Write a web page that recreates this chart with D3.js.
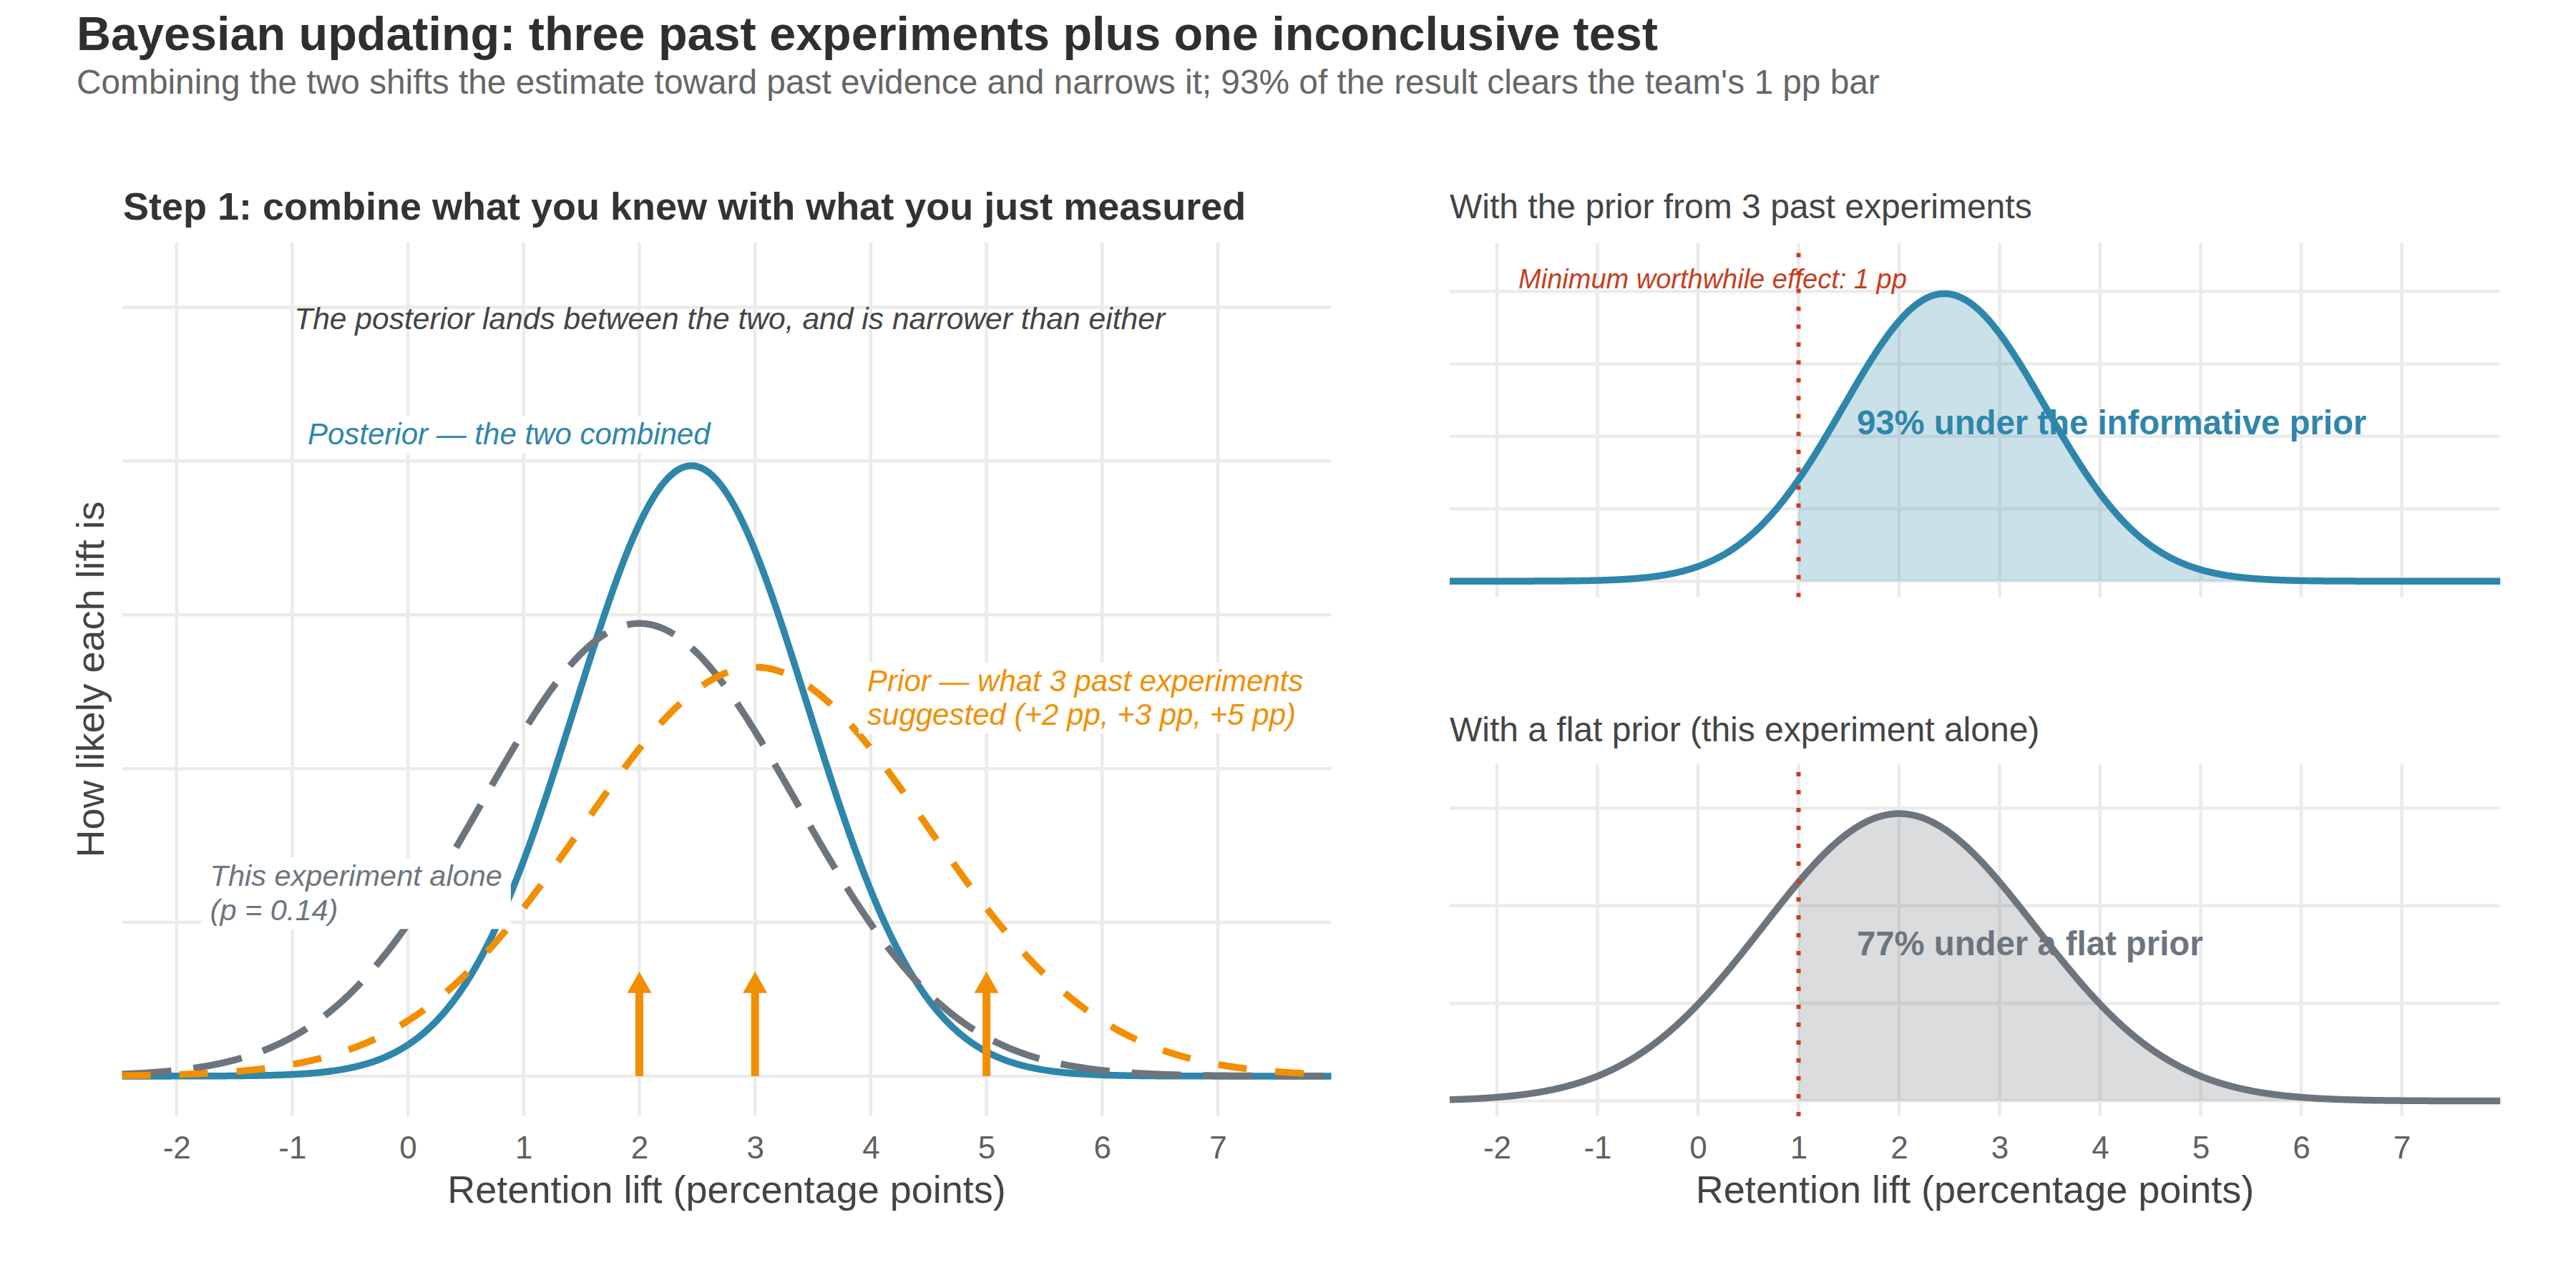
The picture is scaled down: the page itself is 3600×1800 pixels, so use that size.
<!DOCTYPE html>
<html>
<head>
<meta charset="utf-8">
<script src="https://cdn.jsdelivr.net/npm/d3@7"></script>
<style>
  html, body { margin: 0; padding: 0; background: #ffffff; }
  svg { display: block; }
  text { font-family: "Liberation Sans", Arial, Helvetica, sans-serif; }
</style>
</head>
<body>
<svg id="chart" width="3600" height="1800"></svg>
<script>
// ---------------- DATA ----------------
const xTickValues = [-2, -1, 0, 1, 2, 3, 4, 5, 6, 7];
const xDomain = [-2.47, 7.98];

// Normal curves: posterior, this experiment alone, prior
const distKeys  = ["posterior", "experiment", "prior"];
const distMeans = [2.45, 2.0, 3.0];
const distSDs   = [1.005, 1.355, 1.5];

// Past experiment results (arrows)
const pastLifts = [2, 3, 5];
const arrowTip = 0.068;

// Threshold and shares above it
const threshold = 1;
const shareLabels = ["93% under the informative prior", "77% under a flat prior"];

// Gridlines per panel
const leftYGrid   = [0, 0.1, 0.2, 0.3, 0.4, 0.5];
const topYGrid    = [0, 0.1, 0.2, 0.3, 0.4];
const bottomYGrid = [0, 0.1, 0.2, 0.3];

// ---------------- STYLE ----------------
const COL = {
  posterior: "#2E86AB",
  experiment: "#6C757D",
  prior: "#F18F01",
  red: "#C73E1D",
  grid: "#EBEBEB",
  title: "#2f2f2f",
  sub: "#666666",
  axis: "#444444",
  tick: "#606060",
  note: "#444444"
};
const FONT = '"Liberation Sans", Arial, Helvetica, sans-serif';
const LW = 9.5;

const svg = d3.select("#chart");
svg.append("rect").attr("width", 3600).attr("height", 1800).attr("fill", "#fff");

// ---------------- SCALES ----------------
// x(-2) and unit spacing measured from the reference
const xL = d3.scaleLinear().domain(xDomain).range([246.7 + (xDomain[0] + 2) * 161.7, 246.7 + (xDomain[1] + 2) * 161.7]);
const yL = d3.scaleLinear().domain([-0.0261, 0.5421]).range([1560, 339]);
const xR = d3.scaleLinear().domain(xDomain).range([2092 + (xDomain[0] + 2) * 140.5, 2092 + (xDomain[1] + 2) * 140.5]);
const yT = d3.scaleLinear().domain([-0.022, 0.467]).range([834.5, 339.5]);
const yB = d3.scaleLinear().domain([-0.0157, 0.3458]).range([1560, 1067]);

function dnorm(x, m, s) {
  const z = (x - m) / s;
  return Math.exp(-0.5 * z * z) / (s * Math.sqrt(2 * Math.PI));
}
const xsGrid = d3.range(xDomain[0], xDomain[1] + 1e-9, 0.01);
function curve(i) {
  return xsGrid.map(x => ({ x, y: dnorm(x, distMeans[i], distSDs[i]) }));
}
const curves = {};
distKeys.forEach((k, i) => curves[k] = curve(i));

// ---------------- HELPERS ----------------
function grid(g, x, y, yVals) {
  const [x0, x1] = x.range();
  const [yb, yt] = y.range();
  g.selectAll(".hg").data(yVals).join("line")
    .attr("x1", x0).attr("x2", x1)
    .attr("y1", d => y(d)).attr("y2", d => y(d))
    .attr("stroke", COL.grid).attr("stroke-width", 4.5);
  g.selectAll(".vg").data(xTickValues).join("line")
    .attr("x1", d => x(d)).attr("x2", d => x(d))
    .attr("y1", yb).attr("y2", yt)
    .attr("stroke", COL.grid).attr("stroke-width", 4.5);
}

function xAxis(x, yBottom) {
  const ax = d3.axisBottom(x).tickValues(xTickValues).tickSize(0)
    .tickPadding(1619 - yBottom - 0.71 * 44)
    .tickFormat(d => String(d));
  const g = svg.append("g").attr("transform", `translate(0,${yBottom})`).call(ax);
  g.select(".domain").remove();
  g.selectAll("text").attr("font-family", FONT).attr("font-size", 44).attr("fill", COL.tick);
  const [a, b] = x.range();
  svg.append("text").attr("x", (a + b) / 2).attr("y", 1681)
    .attr("text-anchor", "middle").attr("font-size", 54).attr("fill", COL.axis)
    .text("Retention lift (percentage points)");
}

function addText(g, lines, x, y, opts) {
  const t = g.append("text")
    .attr("x", x).attr("y", y)
    .attr("text-anchor", opts.anchor || "start")
    .attr("font-size", opts.size)
    .attr("font-style", opts.italic ? "italic" : "normal")
    .attr("font-weight", opts.bold ? "bold" : "normal")
    .attr("fill", opts.color);
  lines.forEach((ln, i) => {
    t.append("tspan").attr("x", x).attr("dy", i === 0 ? 0 : (opts.lineH || opts.size * 1.15)).text(ln);
  });
  if (opts.box) {
    const bb = t.node().getBBox();
    g.insert("rect", () => t.node())
      .attr("x", bb.x - 12).attr("y", bb.y - 2)
      .attr("width", bb.width + 24).attr("height", bb.height + 5)
      .attr("fill", "#ffffff");
  }
  return t;
}

// ---------------- TITLES ----------------
svg.append("text").attr("x", 107).attr("y", 70)
  .attr("font-size", 66.5).attr("font-weight", "bold").attr("fill", COL.title)
  .text("Bayesian updating: three past experiments plus one inconclusive test");
svg.append("text").attr("x", 107).attr("y", 131)
  .attr("font-size", 47.8).attr("fill", COL.sub)
  .text("Combining the two shifts the estimate toward past evidence and narrows it; 93% of the result clears the team's 1 pp bar");

// ---------------- LEFT PANEL ----------------
svg.append("text").attr("x", 172).attr("y", 307)
  .attr("font-size", 54).attr("font-weight", "bold").attr("fill", "#333333")
  .text("Step 1: combine what you knew with what you just measured");

const gL = svg.append("g");
grid(gL, xL, yL, leftYGrid);

const lineL = d3.line().x(d => xL(d.x)).y(d => yL(d.y)).curve(d3.curveLinear);
// posterior first, then experiment, then prior
gL.append("path").datum(curves.posterior).attr("d", lineL)
  .attr("fill", "none").attr("stroke", COL.posterior).attr("stroke-width", LW);
gL.append("path").datum(curves.experiment).attr("d", lineL)
  .attr("fill", "none").attr("stroke", COL.experiment).attr("stroke-width", LW)
  .attr("stroke-dasharray", "69,31");
gL.append("path").datum(curves.prior).attr("d", lineL)
  .attr("fill", "none").attr("stroke", COL.prior).attr("stroke-width", LW)
  .attr("stroke-dasharray", "40,40");

// arrows for past experiments
const headLen = 30, headW = 34;
pastLifts.forEach(v => {
  const x = xL(v), yb = yL(0), yt = yL(arrowTip);
  gL.append("line").attr("x1", x).attr("x2", x).attr("y1", yb).attr("y2", yt + headLen - 1)
    .attr("stroke", COL.prior).attr("stroke-width", 11);
  gL.append("path")
    .attr("d", `M${x},${yt} L${x - headW / 2},${yt + headLen} L${x + headW / 2},${yt + headLen} Z`)
    .attr("fill", COL.prior);
});

// annotations
addText(gL, ["The posterior lands between the two, and is narrower than either"],
  xL(2.78), yL(0.4858), { size: 42.6, italic: true, color: COL.note, anchor: "middle" });
addText(gL, ["Posterior \u2014 the two combined"],
  xL(0.873), yL(0.4109), { size: 42, italic: true, color: COL.posterior, anchor: "middle", box: true });
addText(gL, ["Prior \u2014 what 3 past experiments", "suggested (+2 pp, +3 pp, +5 pp)"],
  xL(3.97), yL(0.2505), { size: 42, italic: true, color: COL.prior, lineH: 47.5, box: true });
addText(gL, ["This experiment alone", "(p = 0.14)"],
  xL(-1.71), yL(0.1236), { size: 41.5, italic: true, color: COL.experiment, lineH: 48, box: true });

// y axis title
svg.append("text")
  .attr("transform", `translate(145,${(339 + 1560) / 2}) rotate(-90)`)
  .attr("text-anchor", "middle").attr("font-size", 54).attr("fill", COL.axis)
  .text("How likely each lift is");

xAxis(xL, 1560);

// ---------------- RIGHT PANELS ----------------
function rightPanel(y, yGrid, key, title, titleY, label, labelX, labelY, withMinLabel) {
  svg.append("text").attr("x", 2026).attr("y", titleY)
    .attr("font-size", 48).attr("fill", COL.axis).text(title);
  const g = svg.append("g");
  grid(g, xR, y, yGrid);
  const data = curves[key];
  const above = data.filter(d => d.x >= threshold - 1e-9);
  const area = d3.area().x(d => xR(d.x)).y0(y(0)).y1(d => y(d.y));
  g.append("path").datum(above).attr("d", area)
    .attr("fill", COL[key]).attr("fill-opacity", 0.25);
  addText(g, [label], xR(labelX), y(labelY), { size: 47.3, bold: true, color: COL[key] });
  g.append("path").datum(data)
    .attr("d", d3.line().x(d => xR(d.x)).y(d => y(d.y)))
    .attr("fill", "none").attr("stroke", COL[key]).attr("stroke-width", LW);
  const [yb, yt] = y.range();
  g.append("line").attr("x1", xR(threshold)).attr("x2", xR(threshold))
    .attr("y1", yb).attr("y2", yt)
    .attr("stroke", COL.red).attr("stroke-width", 6)
    .attr("stroke-dasharray", "6,19");
  if (withMinLabel) {
    addText(g, ["Minimum worthwhile effect: 1 pp"], xR(-1.786), y(0.4046),
      { size: 38, italic: true, color: COL.red });
  }
}

rightPanel(yT, topYGrid, "posterior", "With the prior from 3 past experiments", 305,
  shareLabels[0], 1.58, 0.203, true);
rightPanel(yB, bottomYGrid, "experiment", "With a flat prior (this experiment alone)", 1036,
  shareLabels[1], 1.58, 0.1494, false);

xAxis(xR, 1560);
</script>
</body>
</html>
